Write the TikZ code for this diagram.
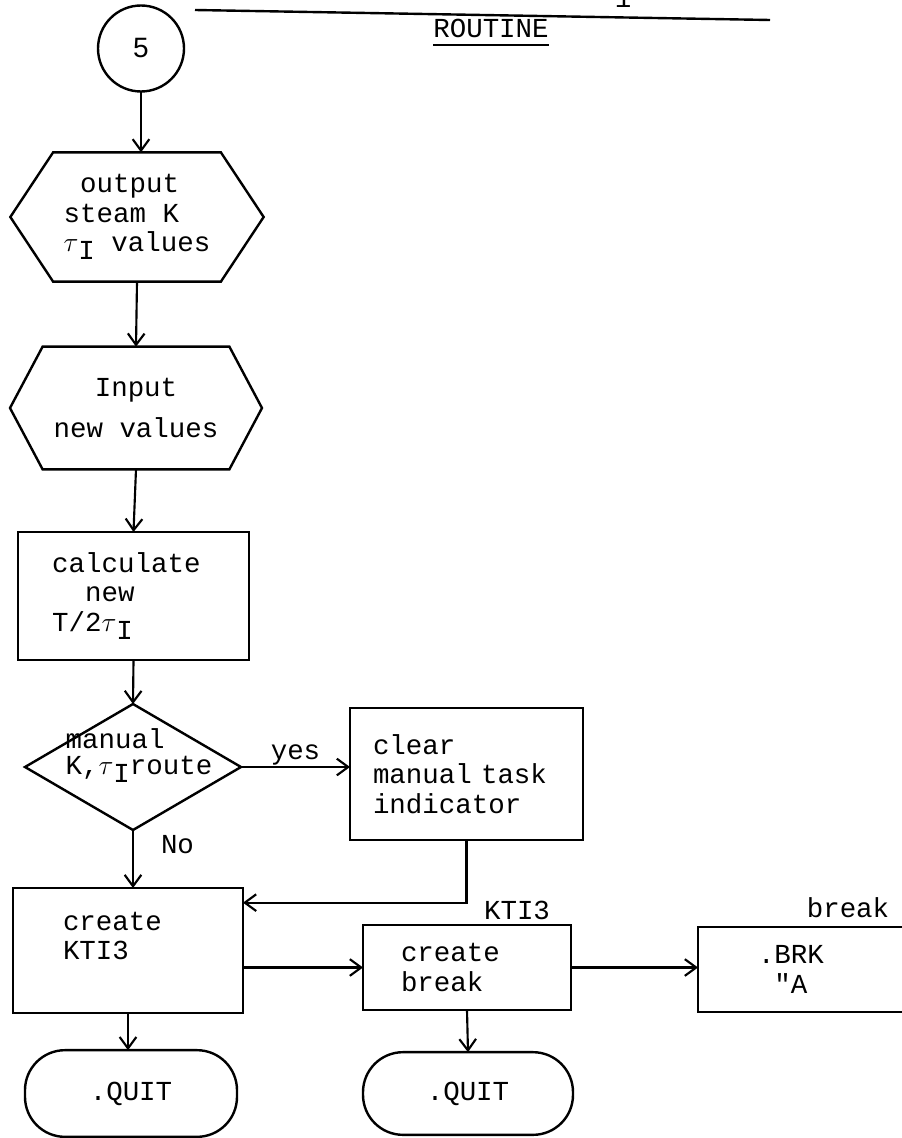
\documentclass[tikz,border=0pt]{standalone}
\usepackage{fontspec}
\setmonofont{Liberation Mono}
\newfontfamily\cifra{Liberation Sans}
\usepackage{tikz}
\usetikzlibrary{arrows.meta,positioning,shapes.geometric,shapes.symbols}
\newcommand{\tauI}{$\tau$\raisebox{-0.55ex}{I}}
\tikzset{
  proceso/.style={rectangle,draw,line width=1.8pt,align=left,inner ysep=2pt},
  decision/.style={diamond,draw,line width=1.8pt,inner sep=0pt},
  hexagono/.style={signal,signal to=west and east,draw,line width=1.8pt,inner sep=2pt},
  terminal/.style={rectangle,rounded corners=30pt,draw,line width=1.8pt},
  flujo/.style={-{Straight Barb[length=3mm,width=4.4mm,line width=1.6pt]},line width=1.6pt},
  etiqueta/.style={inner sep=1pt}
}

\begin{document}
\begin{tikzpicture}[
  x=0.75pt,y=-0.75pt,
  font=\ttfamily\fontsize{20.6}{22}\selectfont,
  conector/.style={circle,draw,line width=1.8pt,minimum size=64.5pt,inner sep=0pt,
    font=\cifra\fontsize{21}{21}\selectfont},
  every node/.style={outer sep=0pt}
]
\useasboundingbox (0,0) rectangle (901,1138);

% 1. Cabecera
\draw[line width=1.8pt] (195,10) -- (770,20);
\node[anchor=base] (uno) at (623,8) {1};
\node[anchor=base,inner sep=0pt] (rutina) at (491,38) {ROUTINE};
\draw[line width=1.3pt] ([yshift=-5pt]rutina.base west) -- ([yshift=-5pt]rutina.base east);

% 2. Entrada y salida de valores
\node[conector] (cinco) at (141,48.5) {5};
\node[hexagono,minimum width=190pt,minimum height=97pt,signal pointer angle=113,align=left] (salida) at (137,217)
  {\hspace*{.6em}output\\steam K\\\tauI\ values};
\node[hexagono,minimum width=189pt,minimum height=92pt,signal pointer angle=124,align=center] (entrada) at (136,408)
  {Input\\[9pt]new values};
\node[proceso,text width=122pt,inner xsep=25.5pt,minimum height=96pt] (calculo) at (133.5,596)
  {calculate\\\hspace*{1.2em}new\\T/2\tauI};

\draw[flujo] (cinco.south) -- (cinco.south |- salida.north);
\draw[flujo] (salida.south) -- (entrada.north);
\draw[flujo] (entrada.south) -- (calculo.north);

% 3. Ruta manual
\node[decision,minimum width=162pt,minimum height=94.5pt] (manual) at (133,767) {};
\node[align=left,inner sep=0pt] (manualtxt) at (139,756) {manual\\[-2.5pt]K,\tauI route};
\node[proceso,text width=140.25pt,inner xsep=17.25pt,minimum height=99pt] (limpiar) at (466.5,774)
  {clear\\manual task\\indicator};

\draw[flujo] (calculo.south) -- (manual.north);
\draw[flujo] (manual.east) -- node[etiqueta,above]{yes} (manual.east -| limpiar.west);

% 4. Crear KTI3 y break
\node[proceso,text width=97.5pt,inner xsep=37.5pt,minimum height=93.75pt] (kti) at (128,950.5)
  {create\\KTI3\\\mbox{}};
\node[proceso,text width=99pt,inner xsep=28.5pt,minimum height=63.75pt] (crearbrk) at (467,967.5)
  {create\\break};
\node[proceso,text width=106.5pt,inner xsep=45pt,minimum height=63.75pt] (brk) at (829,969.5)
  {.BRK\\\hspace*{.6em}"A};
\node[etiqueta] (etkti) at (517,910) {KTI3};
\node[etiqueta] (etbreak) at (848,908) {break};

\draw[flujo] (manual.south) -- node[etiqueta,right=20pt,pos=0.25]{No} (manual.south |- kti.north);
\draw[flujo] (limpiar.south) |- ([yshift=-11pt]kti.north east);
\draw[flujo] (kti.east |- crearbrk.west) -- (crearbrk.west);
\draw[flujo] (crearbrk.east) -- (crearbrk.east -| brk.west);

% 5. Fin
\node[terminal,minimum width=159pt,minimum height=65pt] (fin1) at (131,1093.5) {.QUIT};
\node[terminal,minimum width=157.5pt,minimum height=62pt] (fin2) at (468,1093.5) {.QUIT};

\draw[flujo] (kti.south) -- (kti.south |- fin1.north);
\draw[flujo] (crearbrk.south) -- (fin2.north);

\end{tikzpicture}
\end{document}
